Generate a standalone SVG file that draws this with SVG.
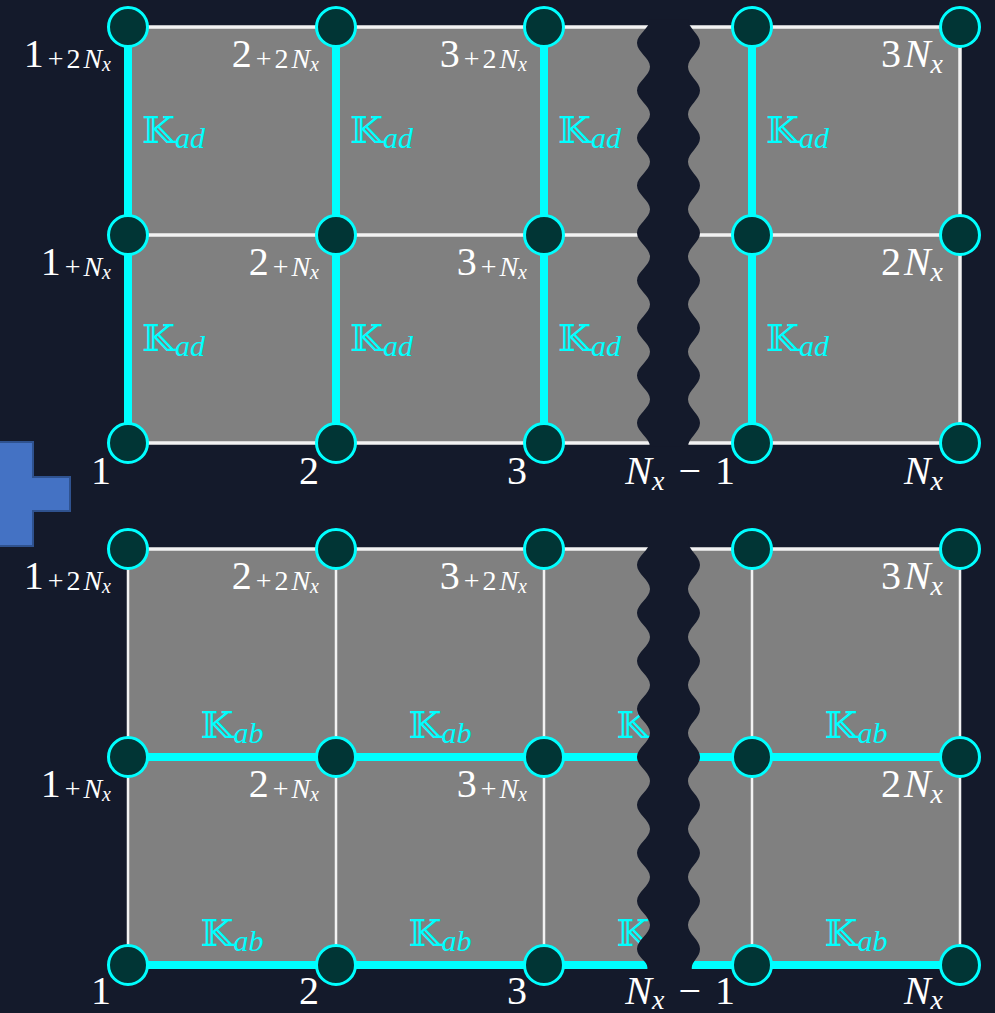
<svg xmlns="http://www.w3.org/2000/svg" width="995" height="1013" viewBox="0 0 995 1013">
<style>
.bg{fill:#141a2b}
.panel{fill:#808080}
.wl{stroke:#f2f2f2;stroke-width:3.5;fill:none}
.wt{stroke:#f2f2f2;stroke-width:2.5;fill:none}
.cl{stroke:#00ffff;stroke-width:8;fill:none}
.brk{fill:#141a2b}
.node{fill:#013535;stroke:#00ffff;stroke-width:3}
.l{font-family:"Liberation Serif","Times New Roman","DejaVu Serif",serif;font-size:40px;fill:#ffffff}
.s{font-size:28px}
.ss{font-size:20px}
.i{font-style:italic}
.k{font-family:"DejaVu Serif","DejaVu Sans",serif;font-size:38px;fill:#00ffff}
.ks{font-family:"Liberation Serif","Times New Roman","DejaVu Serif",serif;font-size:30px;font-style:italic}
.plus{fill:#4472c4;stroke:#2f528f;stroke-width:2}
</style>
<rect class="bg" x="0" y="0" width="995" height="1013"/>
<path class="plus" d="M-35 442 H33 V477 H70 V511 H33 V546 H-35 Z"/>
<rect class="panel" x="128" y="27" width="832" height="416"/>
<rect class="panel" x="128" y="549" width="832" height="416"/>
<g id="connectors">
  <path class="wl" d="M128 27 H960 M128 235 H960 M128 443 H960 M960 27 V443"/>
  <path class="cl" d="M128 27 V443 M336 27 V443 M544 27 V443 M752 27 V443"/>
  <path class="wl" d="M128 549 H960"/>
  <path class="wt" d="M128 549 V965 M336 549 V965 M544 549 V965 M752 549 V965 M960 549 V965"/>
  <path class="cl" d="M128 757 H960 M128 965 H960"/>
  <g id="edge-labels">
    <text class="k" x="142" y="143">𝕂<tspan class="ks" dy="5">ad</tspan></text>
    <text class="k" x="350" y="143">𝕂<tspan class="ks" dy="5">ad</tspan></text>
    <text class="k" x="558" y="143">𝕂<tspan class="ks" dy="5">ad</tspan></text>
    <text class="k" x="766" y="143">𝕂<tspan class="ks" dy="5">ad</tspan></text>
    <text class="k" x="142" y="351">𝕂<tspan class="ks" dy="5">ad</tspan></text>
    <text class="k" x="350" y="351">𝕂<tspan class="ks" dy="5">ad</tspan></text>
    <text class="k" x="558" y="351">𝕂<tspan class="ks" dy="5">ad</tspan></text>
    <text class="k" x="766" y="351">𝕂<tspan class="ks" dy="5">ad</tspan></text>
    <text class="k" x="232" y="738" text-anchor="middle">𝕂<tspan class="ks" dy="5">ab</tspan></text>
    <text class="k" x="440" y="738" text-anchor="middle">𝕂<tspan class="ks" dy="5">ab</tspan></text>
    <text class="k" x="648" y="738" text-anchor="middle">𝕂<tspan class="ks" dy="5">ab</tspan></text>
    <text class="k" x="856" y="738" text-anchor="middle">𝕂<tspan class="ks" dy="5">ab</tspan></text>
    <text class="k" x="232" y="946" text-anchor="middle">𝕂<tspan class="ks" dy="5">ab</tspan></text>
    <text class="k" x="440" y="946" text-anchor="middle">𝕂<tspan class="ks" dy="5">ab</tspan></text>
    <text class="k" x="648" y="946" text-anchor="middle">𝕂<tspan class="ks" dy="5">ab</tspan></text>
    <text class="k" x="856" y="946" text-anchor="middle">𝕂<tspan class="ks" dy="5">ab</tspan></text>
  </g>
</g>
<g id="breaks">
  <path class="brk" d="M650 19.25 C650 28.25 637 34 637 43 S650 57.75 650 66.75 S637 81.5 637 90.5 S650 105.25 650 114.25 S637 129 637 138 S650 152.75 650 161.75 S637 176.5 637 185.5 S650 200.25 650 209.25 S637 224 637 233 S650 247.75 650 256.75 S637 271.5 637 280.5 S650 295.25 650 304.25 S637 319 637 328 S650 342.75 650 351.75 S637 366.5 637 375.5 S650 390.25 650 399.25 S637 414 637 423 S650 437.75 650 446.75 L688 446.75 C688 437.75 700 432 700 423 S688 408.25 688 399.25 S700 384.5 700 375.5 S688 360.75 688 351.75 S700 337 700 328 S688 313.25 688 304.25 S700 289.5 700 280.5 S688 265.75 688 256.75 S700 242 700 233 S688 218.25 688 209.25 S700 194.5 700 185.5 S688 170.75 688 161.75 S700 147 700 138 S688 123.25 688 114.25 S700 99.5 700 90.5 S688 75.75 688 66.75 S700 52 700 43 S688 28.25 688 19.25 Z"/>
  <path class="brk" d="M650 541 C650 550 637 556 637 565 S650 580 650 589 S637 604 637 613 S650 628 650 637 S637 652 637 661 S650 676 650 685 S637 700 637 709 S650 724 650 733 S637 748 637 757 S650 772 650 781 S637 796 637 805 S650 820 650 829 S637 844 637 853 S650 868 650 877 S637 892 637 901 S650 916 650 925 S637 940 637 949 S650 962 647 970 L692 970 C690 962 700 958 700 949 S688 934 688 925 S700 910 700 901 S688 886 688 877 S700 862 700 853 S688 838 688 829 S700 814 700 805 S688 790 688 781 S700 766 700 757 S688 742 688 733 S700 718 700 709 S688 694 688 685 S700 670 700 661 S688 646 688 637 S700 622 700 613 S688 598 688 589 S700 574 700 565 S688 550 688 541 Z"/>
</g>
<g id="top-grid">
  <g id="t-1-2nx"><circle class="node" cx="128" cy="27" r="19.5"/><text class="l" x="111" y="67" text-anchor="end">1<tspan class="s" dx="4" dy="1">+</tspan><tspan class="s" dx="3">2</tspan><tspan class="s i" dx="3">N</tspan><tspan class="ss i" dy="3">x</tspan></text></g>
  <g id="t-2-2nx"><circle class="node" cx="336" cy="27" r="19.5"/><text class="l" x="319" y="67" text-anchor="end">2<tspan class="s" dx="4" dy="1">+</tspan><tspan class="s" dx="3">2</tspan><tspan class="s i" dx="3">N</tspan><tspan class="ss i" dy="3">x</tspan></text></g>
  <g id="t-3-2nx"><circle class="node" cx="544" cy="27" r="19.5"/><text class="l" x="527" y="67" text-anchor="end">3<tspan class="s" dx="4" dy="1">+</tspan><tspan class="s" dx="3">2</tspan><tspan class="s i" dx="3">N</tspan><tspan class="ss i" dy="3">x</tspan></text></g>
  <g id="t-nm1-2nx"><circle class="node" cx="752" cy="27" r="19.5"/></g>
  <g id="t-3nx"><circle class="node" cx="960" cy="27" r="19.5"/><text class="l" x="943" y="67" text-anchor="end">3<tspan class="i" dx="3">N</tspan><tspan class="s i" dy="6">x</tspan></text></g>
  <g id="t-1-nx"><circle class="node" cx="128" cy="235" r="19.5"/><text class="l" x="111" y="275" text-anchor="end">1<tspan class="s" dx="4" dy="1">+</tspan><tspan class="s i" dx="3">N</tspan><tspan class="ss i" dy="3">x</tspan></text></g>
  <g id="t-2-nx"><circle class="node" cx="336" cy="235" r="19.5"/><text class="l" x="319" y="275" text-anchor="end">2<tspan class="s" dx="4" dy="1">+</tspan><tspan class="s i" dx="3">N</tspan><tspan class="ss i" dy="3">x</tspan></text></g>
  <g id="t-3-nx"><circle class="node" cx="544" cy="235" r="19.5"/><text class="l" x="527" y="275" text-anchor="end">3<tspan class="s" dx="4" dy="1">+</tspan><tspan class="s i" dx="3">N</tspan><tspan class="ss i" dy="3">x</tspan></text></g>
  <g id="t-nm1-nx"><circle class="node" cx="752" cy="235" r="19.5"/></g>
  <g id="t-2nx"><circle class="node" cx="960" cy="235" r="19.5"/><text class="l" x="943" y="275" text-anchor="end">2<tspan class="i" dx="3">N</tspan><tspan class="s i" dy="6">x</tspan></text></g>
  <g id="t-1"><circle class="node" cx="128" cy="443" r="19.5"/><text class="l" x="111" y="484" text-anchor="end">1</text></g>
  <g id="t-2"><circle class="node" cx="336" cy="443" r="19.5"/><text class="l" x="319" y="484" text-anchor="end">2</text></g>
  <g id="t-3"><circle class="node" cx="544" cy="443" r="19.5"/><text class="l" x="527" y="484" text-anchor="end">3</text></g>
  <g id="t-nm1"><circle class="node" cx="752" cy="443" r="19.5"/><text class="l" x="735" y="484" text-anchor="end"><tspan class="i">N</tspan><tspan class="s i" dy="6">x</tspan><tspan dx="14" dy="-6">−</tspan><tspan dx="14">1</tspan></text></g>
  <g id="t-nx"><circle class="node" cx="960" cy="443" r="19.5"/><text class="l" x="943" y="484" text-anchor="end"><tspan class="i">N</tspan><tspan class="s i" dy="6">x</tspan></text></g>
</g>
<g id="bottom-grid">
  <g id="b-1-2nx"><circle class="node" cx="128" cy="549" r="19.5"/><text class="l" x="111" y="589" text-anchor="end">1<tspan class="s" dx="4" dy="1">+</tspan><tspan class="s" dx="3">2</tspan><tspan class="s i" dx="3">N</tspan><tspan class="ss i" dy="3">x</tspan></text></g>
  <g id="b-2-2nx"><circle class="node" cx="336" cy="549" r="19.5"/><text class="l" x="319" y="589" text-anchor="end">2<tspan class="s" dx="4" dy="1">+</tspan><tspan class="s" dx="3">2</tspan><tspan class="s i" dx="3">N</tspan><tspan class="ss i" dy="3">x</tspan></text></g>
  <g id="b-3-2nx"><circle class="node" cx="544" cy="549" r="19.5"/><text class="l" x="527" y="589" text-anchor="end">3<tspan class="s" dx="4" dy="1">+</tspan><tspan class="s" dx="3">2</tspan><tspan class="s i" dx="3">N</tspan><tspan class="ss i" dy="3">x</tspan></text></g>
  <g id="b-nm1-2nx"><circle class="node" cx="752" cy="549" r="19.5"/></g>
  <g id="b-3nx"><circle class="node" cx="960" cy="549" r="19.5"/><text class="l" x="943" y="589" text-anchor="end">3<tspan class="i" dx="3">N</tspan><tspan class="s i" dy="6">x</tspan></text></g>
  <g id="b-1-nx"><circle class="node" cx="128" cy="757" r="19.5"/><text class="l" x="111" y="797" text-anchor="end">1<tspan class="s" dx="4" dy="1">+</tspan><tspan class="s i" dx="3">N</tspan><tspan class="ss i" dy="3">x</tspan></text></g>
  <g id="b-2-nx"><circle class="node" cx="336" cy="757" r="19.5"/><text class="l" x="319" y="797" text-anchor="end">2<tspan class="s" dx="4" dy="1">+</tspan><tspan class="s i" dx="3">N</tspan><tspan class="ss i" dy="3">x</tspan></text></g>
  <g id="b-3-nx"><circle class="node" cx="544" cy="757" r="19.5"/><text class="l" x="527" y="797" text-anchor="end">3<tspan class="s" dx="4" dy="1">+</tspan><tspan class="s i" dx="3">N</tspan><tspan class="ss i" dy="3">x</tspan></text></g>
  <g id="b-nm1-nx"><circle class="node" cx="752" cy="757" r="19.5"/></g>
  <g id="b-2nx"><circle class="node" cx="960" cy="757" r="19.5"/><text class="l" x="943" y="797" text-anchor="end">2<tspan class="i" dx="3">N</tspan><tspan class="s i" dy="6">x</tspan></text></g>
  <g id="b-1"><circle class="node" cx="128" cy="965" r="19.5"/><text class="l" x="111" y="1004" text-anchor="end">1</text></g>
  <g id="b-2"><circle class="node" cx="336" cy="965" r="19.5"/><text class="l" x="319" y="1004" text-anchor="end">2</text></g>
  <g id="b-3"><circle class="node" cx="544" cy="965" r="19.5"/><text class="l" x="527" y="1004" text-anchor="end">3</text></g>
  <g id="b-nm1"><circle class="node" cx="752" cy="965" r="19.5"/><text class="l" x="735" y="1004" text-anchor="end"><tspan class="i">N</tspan><tspan class="s i" dy="5">x</tspan><tspan dx="14" dy="-5">−</tspan><tspan dx="14">1</tspan></text></g>
  <g id="b-nx"><circle class="node" cx="960" cy="965" r="19.5"/><text class="l" x="943" y="1004" text-anchor="end"><tspan class="i">N</tspan><tspan class="s i" dy="5">x</tspan></text></g>
</g>
</svg>
